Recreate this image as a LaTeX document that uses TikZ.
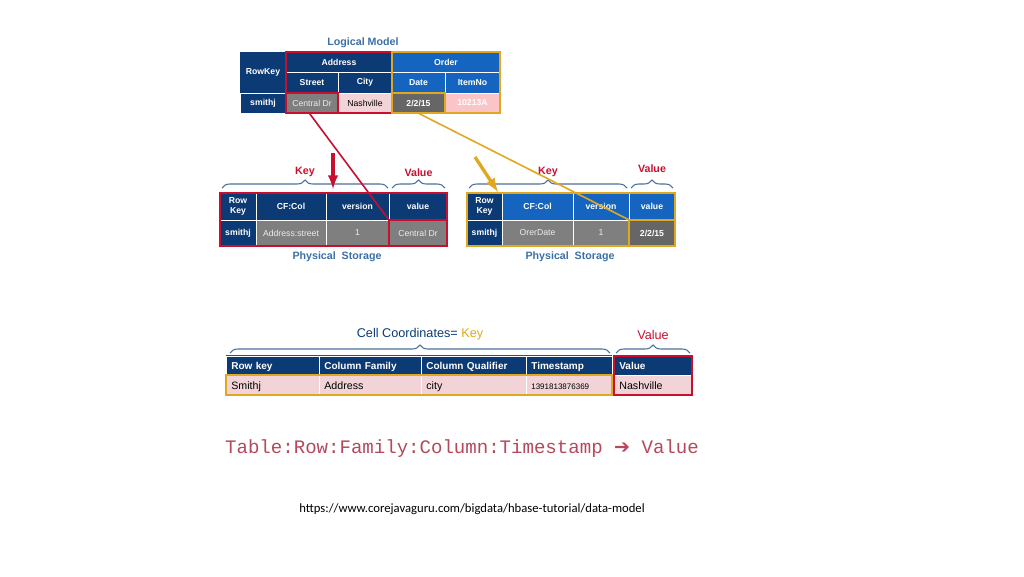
\documentclass[tikz,border=0pt]{standalone}
\usepackage{fontspec}
\setmainfont{Liberation Sans}
\newfontfamily\monofont{Liberation Mono}
\newfontfamily\symfont{DejaVu Sans}
\newfontfamily\urlfont{Carlito}
\usepackage{tikz}
\usetikzlibrary{calc,decorations.pathreplacing}

\definecolor{navy}{HTML}{0B3A75}
\definecolor{midblue}{HTML}{1565C0}
\definecolor{keyred}{HTML}{C8102E}
\definecolor{keygold}{HTML}{E0A820}
\definecolor{pinkcell}{HTML}{F2D4D8}
\definecolor{graycell}{HTML}{7F7F7F}
\definecolor{darkgray}{HTML}{666666}
\definecolor{bracecol}{HTML}{4A6F9A}
\definecolor{titleblue}{HTML}{3A6FA8}
\definecolor{formula}{HTML}{B5485A}

% cell: name, x1, y1, x2, y2, style, text (pixel coordinates)
\newcommand\cell[7]{%
  \node[cell,#6,minimum width={(#4-#2)*0.75pt},minimum height={(#5-#3)*0.75pt}]
    (#1) at ({(#2+#4)/2},{(#3+#5)/2}) {#7};}

\begin{document}
\begin{tikzpicture}[
        x=0.75pt, y=-0.75pt,
        cell/.style = {draw=white, line width=0.4pt, inner sep=0pt, font=\bfseries\fontsize{6.5}{7}\selectfont, align=center},
        hdr/.style = {fill=navy, text=white},
        hdrb/.style = {fill=midblue, text=white},
        gry/.style = {fill=graycell, text=white!85!gray, font=\fontsize{6.5}{7}\selectfont},
        pnk/.style = {fill=pinkcell, text=black, font=\fontsize{6.5}{7}\selectfont},
        wide/.style = {align=left, text height=1.5ex, text depth=0.3ex},
        bighdr/.style = {hdr, wide, font=\bfseries\fontsize{7.5}{8}\selectfont},
        bigpnk/.style = {pnk, wide, font=\fontsize{8}{9}\selectfont},
        redbox/.style = {draw=keyred, line width=1.2pt},
        goldbox/.style = {draw=keygold, line width=1.2pt},
        brace/.style = {decorate, decoration={brace, amplitude=6pt}, draw=bracecol, thick},
        lbl/.style = {font=\bfseries\fontsize{8}{9}\selectfont},
        arrow/.style = {-latex, line width=2.5pt}
    ]
    \useasboundingbox (0,0) rectangle (1024,576);

    % Logical model
    \node[lbl, text=titleblue] (lmtitle) at (363,43) {Logical Model};
    \cell{rk}{240}{52}{286}{93}{hdr,draw=navy}{RowKey}
    \cell{rksm}{240}{93}{286}{113}{hdr}{smithj}
    \cell{addr}{286}{52}{392}{72}{hdr}{Address}
    \cell{street}{286}{72}{338}{93}{hdr}{Street}
    \cell{city}{338}{72}{392}{93}{hdr}{City}
    \cell{order}{392}{52}{500}{72}{hdrb}{Order}
    \cell{date}{392}{72}{445}{93}{hdrb}{Date}
    \cell{itemno}{445}{72}{500}{93}{hdrb}{ItemNo}
    \cell{cdr}{286}{93}{338}{113}{gry}{Central Dr}
    \cell{nash}{338}{93}{392}{113}{pnk}{Nashville}
    \cell{ddate}{392}{93}{445}{113}{fill=darkgray,text=white}{2/2/15}
    \cell{ditem}{445}{93}{500}{113}{fill=pink!70!pinkcell,text=white}{10213A}
    \draw[redbox] (addr.north west) rectangle (nash.south east);
    \draw[redbox] (cdr.north west) rectangle (cdr.south east);
    \draw[goldbox] (order.north west) rectangle (ditem.south east);
    \draw[goldbox] (ddate.north west) rectangle (ddate.south east);

    % Physical storage, left
    \cell{lrk}{220}{193}{256}{220}{hdr}{Row\\Key}
    \cell{lcf}{256}{193}{326}{220}{hdr}{CF:Col}
    \cell{lver}{326}{193}{389}{220}{hdr}{version}
    \cell{lval}{389}{193}{447}{220}{hdr}{value}
    \cell{lsm}{220}{220}{256}{246}{hdr}{smithj}
    \cell{lcfd}{256}{220}{326}{246}{gry}{Address:street}
    \cell{lverd}{326}{220}{389}{246}{gry}{1}
    \cell{lvald}{389}{220}{447}{246}{gry}{Central Dr}
    \draw[redbox] (lrk.north west) rectangle (lvald.south east);
    \draw[redbox] (lvald.north west) rectangle (lvald.south east);
    \draw[brace] (222,188) -- (388,188) node[midway, above=5pt, lbl, text=keyred] (lkey) {Key};
    \draw[brace] (392,188) -- (445,188) node[midway, above=5pt, lbl, text=keyred] (lvalue) {Value};
    \node[lbl, text=titleblue] (lps) at (337,257) {Physical\ \ Storage};

    % Physical storage, right
    \cell{rrk}{467}{193}{502}{220}{hdr}{Row\\Key}
    \cell{rcf}{502}{193}{573}{220}{hdrb}{CF:Col}
    \cell{rver}{573}{193}{629}{220}{hdrb}{version}
    \cell{rval}{629}{193}{675}{220}{hdrb}{value}
    \cell{rsm}{467}{220}{502}{246}{hdr}{smithj}
    \cell{rcfd}{502}{220}{573}{246}{gry}{OrerDate}
    \cell{rverd}{573}{220}{629}{246}{gry}{1}
    \cell{rvald}{629}{220}{675}{246}{fill=darkgray,text=white}{2/2/15}
    \draw[goldbox] (rrk.north west) rectangle (rvald.south east);
    \draw[goldbox] (rvald.north west) rectangle (rvald.south east);
    \draw[brace] (469,188) -- (627,188) node[midway, above=5pt, lbl, text=keyred] (rkey) {Key};
    \draw[brace] (631,188) -- (673,188) node[midway, above=8pt, lbl, text=keyred] (rvalue) {Value};
    \node[lbl, text=titleblue] (rps) at (570,257) {Physical\ \ Storage};

    % Connectors
    \coordinate (redtop) at (333,153);
    \coordinate (redtip) at (333,189);
    \coordinate (goldtop) at (475,157);
    \coordinate (goldtip) at (498,192);
    \draw[arrow, keyred] (redtop) -- (redtip);
    \draw[arrow, keygold] (goldtop) -- (goldtip);
    \draw[keyred, line width=1.2pt] ($(cdr.south west)!0.45!(cdr.south east)$) -- (lvald.north west);
    \draw[keygold, line width=1.2pt] ($(ddate.south west)!0.5!(ddate.south east)$) -- (rvald.north west);

    % Cell coordinates table
    \cell{brk}{226}{356}{319}{375}{bighdr,text width={(319-226)*0.75pt-8pt}}{Row key}
    \cell{bcf}{319}{356}{421}{375}{bighdr,text width={(421-319)*0.75pt-8pt}}{Column Family}
    \cell{bcq}{421}{356}{526}{375}{bighdr,text width={(526-421)*0.75pt-8pt}}{Column Qualifier}
    \cell{bts}{526}{356}{612}{375}{bighdr,text width={(612-526)*0.75pt-8pt}}{Timestamp}
    \cell{bval}{614}{356}{692}{375}{bighdr,text width={(692-614)*0.75pt-8pt}}{Value}
    \cell{brkd}{226}{375}{319}{395}{bigpnk,text width={(319-226)*0.75pt-8pt}}{Smithj}
    \cell{bcfd}{319}{375}{421}{395}{bigpnk,text width={(421-319)*0.75pt-8pt}}{Address}
    \cell{bcqd}{421}{375}{526}{395}{bigpnk,text width={(526-421)*0.75pt-8pt}}{city}
    \cell{btsd}{526}{375}{612}{395}{bigpnk,text width={(612-526)*0.75pt-8pt},font=\fontsize{6}{7}\selectfont}{1391813876369}
    \cell{bvald}{614}{375}{692}{395}{bigpnk,text width={(692-614)*0.75pt-8pt}}{Nashville}
    \draw[keyred, line width=0.8pt] (brk.north west) -- (bts.north east);
    \draw[goldbox] (brkd.north west) rectangle (btsd.south east);
    \draw[redbox] (bval.north west) rectangle (bvald.south east);
    \draw[brace] (230,353) -- (610,353) node[midway, above=6pt, font=\fontsize{9.5}{11}\selectfont] (ccoord) {\textcolor{navy}{Cell Coordinates=} \textcolor{keygold}{Key}};
    \draw[brace] (616,353) -- (690,353) node[midway, above=6pt, font=\fontsize{9.5}{11}\selectfont, text=keyred] (bvalue) {Value};

    % Formula and source
    \node[text=formula, font=\monofont\fontsize{14.3}{16}\selectfont] (formula) at (462,449)
      {Table:Row:Family:Column:Timestamp {\symfont ➔} Value};
    \node[font=\urlfont\fontsize{9.5}{11}\selectfont] (src) at (472,509)
      {https://www.corejavaguru.com/bigdata/hbase-tutorial/data-model};
\end{tikzpicture}
\end{document}
